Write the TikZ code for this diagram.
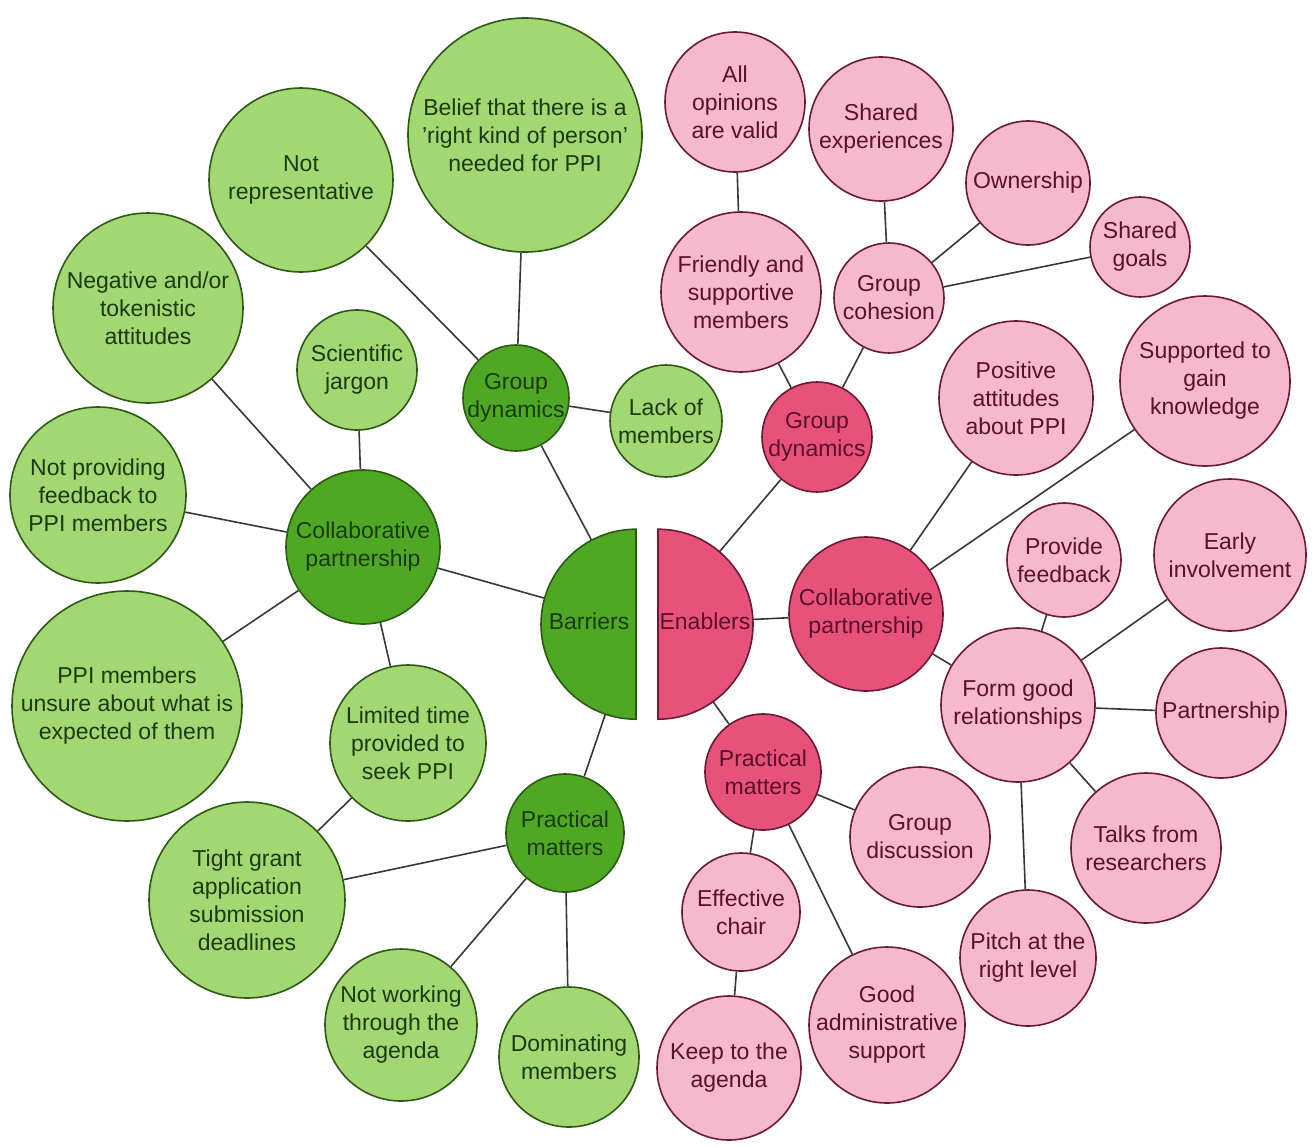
\documentclass[tikz,border=0pt]{standalone}
\usepackage{fontspec}
\setmainfont{Liberation Sans}
\usetikzlibrary{backgrounds}
\definecolor{dgf}{HTML}{4FA823}
\definecolor{lgf}{HTML}{A2D772}
\definecolor{dpf}{HTML}{E8527A}
\definecolor{lpf}{HTML}{F5B8CC}
\definecolor{gbd}{HTML}{2C5A15}
\definecolor{pbd}{HTML}{6A1A36}
\definecolor{gtx}{HTML}{1C3A0E}
\definecolor{ptx}{HTML}{5A0F2A}
\definecolor{linec}{HTML}{383838}
\begin{document}
\begin{tikzpicture}[x=1pt,y=-1pt,
  bub/.style={circle, inner sep=0pt, line width=1.6pt},
  lg/.style={bub, fill=lgf, draw=gbd},
  dg/.style={bub, fill=dgf, draw=gbd},
  lp/.style={bub, fill=lpf, draw=pbd},
  dp/.style={bub, fill=dpf, draw=pbd},
  gtxt/.style={align=center, text=gtx, font=\fontsize{23}{28}\selectfont, inner sep=0pt},
  ptxt/.style={align=center, text=ptx, font=\fontsize{23}{28}\selectfont, inner sep=0pt},
  link/.style={draw=linec, line width=1.6pt},
  half/.style={circle, inner sep=0pt, minimum size=190pt}]
\useasboundingbox (0,0) rectangle (1314,1146);

% ---- central half discs
\node[half] (bar) at (636,624) {};
\node[half] (en) at (658,624) {};
\fill[dgf, draw=gbd, line width=1.6pt] (bar.south) arc[start angle=90, end angle=270, radius=95] -- cycle;
\fill[dpf, draw=pbd, line width=1.6pt] (en.south) arc[start angle=90, end angle=-90, radius=95] -- cycle;
\node[gtxt] (bar-t) at (589,621) {Barriers};
\node[ptxt] (en-t) at (705,621) {Enablers};

% ---- green (barriers)
\node[lg,minimum size=234pt] (belief) at (525,135) {};
\node[gtxt] (belief-t) at (belief) {Belief that there is a\\'right kind of person'\\needed for PPI};
\node[lg,minimum size=184pt] (notrep) at (301,180) {};
\node[gtxt] (notrep-t) at (notrep) {Not\\representative};
\node[lg,minimum size=190pt] (neg) at (148,308) {};
\node[gtxt] (neg-t) at (neg) {Negative and/or\\tokenistic\\attitudes};
\node[lg,minimum size=120pt] (jar) at (357,370) {};
\node[gtxt] (jar-t) at (jar) {Scientific\\jargon};
\node[dg,minimum size=106pt] (ggd) at (516,398) {};
\node[gtxt] (ggd-t) at (ggd) {Group\\dynamics};
\node[lg,minimum size=112pt] (lack) at (666,421) {};
\node[gtxt] (lack-t) at (lack) {Lack of\\members};
\node[dg,minimum size=154pt] (gcp) at (363,547) {};
\node[gtxt] (gcp-t) at (gcp) {Collaborative\\partnership};
\node[lg,minimum size=176pt] (nfb) at (98,495) {};
\node[gtxt] (nfb-t) at (nfb) {Not providing\\feedback to\\PPI members};
\node[lg,minimum size=230pt] (unsure) at (127,706) {};
\node[gtxt] (unsure-t) at (unsure) {PPI members\\unsure about what is\\expected of them};
\node[lg,minimum size=156pt] (ltime) at (408,743) {};
\node[gtxt] (ltime-t) at (ltime) {Limited time\\provided to\\seek PPI};
\node[lg,minimum size=196pt] (tight) at (247,900) {};
\node[gtxt] (tight-t) at (tight) {Tight grant\\application\\submission\\deadlines};
\node[dg,minimum size=118pt] (gpm) at (565,833) {};
\node[gtxt] (gpm-t) at (gpm) {Practical\\matters};
\node[lg,minimum size=152pt] (notwork) at (401,1025) {};
\node[gtxt] (notwork-t) at (notwork) {Not working\\through the\\agenda};
\node[lg,minimum size=140pt] (dom) at (569,1057) {};
\node[gtxt] (dom-t) at (dom) {Dominating\\members};

% ---- pink (enablers)
\node[lp,minimum size=140pt] (allop) at (735,102) {};
\node[ptxt] (allop-t) at (allop) {All\\opinions\\are valid};
\node[lp,minimum size=160pt] (friend) at (741,292) {};
\node[ptxt] (friend-t) at (friend) {Friendly and\\supportive\\members};
\node[lp,minimum size=144pt] (shexp) at (881,129) {};
\node[ptxt] (shexp-t) at (shexp) {Shared\\experiences};
\node[lp,minimum size=124pt] (own) at (1028,183) {};
\node[ptxt] (own-t) at (own) {Ownership};
\node[lp,minimum size=110pt] (coh) at (889,298) {};
\node[ptxt] (coh-t) at (coh) {Group\\cohesion};
\node[lp,minimum size=100pt] (shg) at (1140,247) {};
\node[ptxt] (shg-t) at (shg) {Shared\\goals};
\node[dp,minimum size=110pt] (pgd) at (817,437) {};
\node[ptxt] (pgd-t) at (pgd) {Group\\dynamics};
\node[lp,minimum size=154pt] (posatt) at (1016,398) {};
\node[ptxt] (posatt-t) at (posatt) {Positive\\attitudes\\about PPI};
\node[lp,minimum size=170pt] (supp) at (1205,381) {};
\node[ptxt] (supp-t) at (supp) {Supported to\\gain\\knowledge};
\node[dp,minimum size=154pt] (pcp) at (866,614) {};
\node[ptxt] (pcp-t) at (pcp) {Collaborative\\partnership};
\node[lp,minimum size=114pt] (pfb) at (1064,560) {};
\node[ptxt] (pfb-t) at (pfb) {Provide\\feedback};
\node[lp,minimum size=152pt] (early) at (1230,555) {};
\node[ptxt] (early-t) at (early) {Early\\involvement};
\node[lp,minimum size=154pt] (form) at (1018,705) {};
\node[ptxt] (form-t) at (form) {Form good\\relationships};
\node[lp,minimum size=130pt] (partn) at (1221,713) {};
\node[ptxt] (partn-t) at (partn) {Partnership};
\node[lp,minimum size=150pt] (talks) at (1146,848) {};
\node[ptxt] (talks-t) at (talks) {Talks from\\researchers};
\node[lp,minimum size=136pt] (pitch) at (1028,958) {};
\node[ptxt] (pitch-t) at (pitch) {Pitch at the\\right level};
\node[dp,minimum size=116pt] (ppm) at (763,772) {};
\node[ptxt] (ppm-t) at (ppm) {Practical\\matters};
\node[lp,minimum size=140pt] (gdisc) at (920,837) {};
\node[ptxt] (gdisc-t) at (gdisc) {Group\\discussion};
\node[lp,minimum size=118pt] (chair) at (741,912) {};
\node[ptxt] (chair-t) at (chair) {Effective\\chair};
\node[lp,minimum size=156pt] (admin) at (887,1025) {};
\node[ptxt] (admin-t) at (admin) {Good\\administrative\\support};
\node[lp,minimum size=144pt] (keep) at (729,1068) {};
\node[ptxt] (keep-t) at (keep) {Keep to the\\agenda};

% ---- connectors
\begin{scope}[on background layer]
\draw[link] (bar) -- (ggd);
\draw[link] (bar) -- (gcp);
\draw[link] (bar) -- (gpm);
\draw[link] (ggd) -- (belief);
\draw[link] (ggd) -- (notrep);
\draw[link] (ggd) -- (lack);
\draw[link] (gcp) -- (neg);
\draw[link] (gcp) -- (jar);
\draw[link] (gcp) -- (nfb);
\draw[link] (gcp) -- (unsure);
\draw[link] (gcp) -- (ltime);
\draw[link] (ltime) -- (tight);
\draw[link] (gpm) -- (tight);
\draw[link] (gpm) -- (notwork);
\draw[link] (gpm) -- (dom);
\draw[link] (en) -- (pgd);
\draw[link] (en) -- (pcp);
\draw[link] (en) -- (ppm);
\draw[link] (pgd) -- (friend);
\draw[link] (pgd) -- (coh);
\draw[link] (friend) -- (allop);
\draw[link] (coh) -- (shexp);
\draw[link] (coh) -- (own);
\draw[link] (coh) -- (shg);
\draw[link] (pcp) -- (posatt);
\draw[link] (pcp) -- (supp);
\draw[link] (pcp) -- (form);
\draw[link] (form) -- (pfb);
\draw[link] (form) -- (early);
\draw[link] (form) -- (partn);
\draw[link] (form) -- (talks);
\draw[link] (form) -- (pitch);
\draw[link] (ppm) -- (gdisc);
\draw[link] (ppm) -- (chair);
\draw[link] (ppm) -- (admin);
\draw[link] (chair) -- (keep);
\end{scope}
\end{tikzpicture}
\end{document}
